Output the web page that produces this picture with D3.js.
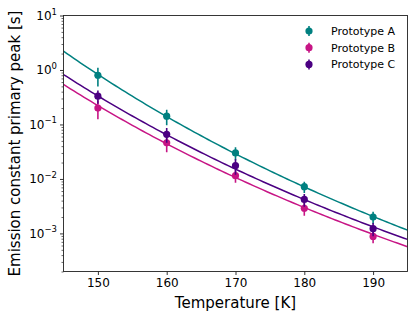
<!DOCTYPE html>
<html><head><meta charset="utf-8">
<script src="https://cdn.jsdelivr.net/npm/d3@7"></script>
<style>body{margin:0;background:#fff}svg{display:block;font-family:"DejaVu Sans",sans-serif}</style>
</head><body><svg id="c" width="415" height="317"></svg>
<script>
const temps = [150, 160, 170, 180, 190];
const seriesNames = ["Prototype A", "Prototype B", "Prototype C"];
const colors = ["#008080", "#c71585", "#4b0082"];
const valuesA = [0.80, 0.142, 0.030, 0.0072, 0.0020];
const valuesB = [0.20, 0.046, 0.0115, 0.0029, 0.00088];
const valuesC = [0.33, 0.066, 0.0175, 0.0042, 0.00122];
const errA = [0.30, 0.045, 0.008, 0.0017, 0.0005];
const errB = [0.075, 0.015, 0.003, 0.0008, 0.00022];
const errC = [0.09, 0.02, 0.0055, 0.0011, 0.00033];
// Arrhenius fit parameters: log10(tau) = a + b / T
const fitA = [-12.466, 1857.6];
const fitB = [-11.88, 1684.0];
const fitC = [-11.888, 1711.7];
const xTicks = [150, 160, 170, 180, 190];
const yTicks = [1e-3, 1e-2, 1e-1, 1, 10];
const yTickExp = ["\u22123", "\u22122", "\u22121", "0", "1"];

const series = [
  {name: seriesNames[0], vals: valuesA, err: errA, fit: fitA, color: colors[0]},
  {name: seriesNames[1], vals: valuesB, err: errB, fit: fitB, color: colors[1]},
  {name: seriesNames[2], vals: valuesC, err: errC, fit: fitC, color: colors[2]}
];

const L = 63.5, R = 407.5, T = 15.5, B = 271.5;
const svg = d3.select("#c");
const x = d3.scaleLinear().domain([145, 195]).range([L, R]);
const y = d3.scaleLog().domain([2e-4, 10]).range([B, T]);

svg.append("clipPath").attr("id", "clp").append("rect")
  .attr("x", L).attr("y", T).attr("width", R - L).attr("height", B - T);

const g = svg.append("g").attr("clip-path", "url(#clp)");
const fitX = d3.range(145, 195.01, 0.5);
const line = d3.line().x(d => x(d[0])).y(d => y(d[1]));
series.forEach(s => {
  g.append("path")
    .attr("d", line(fitX.map(t => [t, Math.pow(10, s.fit[0] + s.fit[1] / t)])))
    .attr("fill", "none").attr("stroke", s.color).attr("stroke-width", 1.5);
});
series.forEach(s => {
  temps.forEach((t, i) => {
    const v = s.vals[i], e = s.err[i];
    g.append("line").attr("x1", x(t)).attr("x2", x(t))
      .attr("y1", y(v + e)).attr("y2", y(Math.max(v - e, 1e-6)))
      .attr("stroke", s.color).attr("stroke-width", 1.6);
    g.append("circle").attr("cx", x(t)).attr("cy", y(v)).attr("r", 3.6).attr("fill", s.color);
  });
});

// axes
const xa = svg.append("g").attr("transform", `translate(0,${B})`)
  .call(d3.axisBottom(x).tickValues(xTicks).tickSize(3.5).tickPadding(3).tickFormat(d3.format("d")));
xa.select(".domain").remove();
xa.selectAll("text").attr("font-size", 12).attr("font-family", "DejaVu Sans").attr("fill", "#000");
xa.selectAll("line").attr("stroke", "#000").attr("stroke-width", 0.8);

const minor = [];
for (let dec = -4; dec <= 0; dec++) for (let m = 1; m <= 9; m++) {
  const v = m * Math.pow(10, dec);
  if (m > 1 && v >= 2e-4 && v <= 10) minor.push(v);
}
const ym = svg.append("g").attr("transform", `translate(${L},0)`)
  .call(d3.axisLeft(y).tickValues(minor).tickSize(2).tickFormat(""));
ym.select(".domain").remove();
ym.selectAll("line").attr("stroke", "#000").attr("stroke-width", 0.6);

const ya = svg.append("g").attr("transform", `translate(${L},0)`)
  .call(d3.axisLeft(y).tickValues(yTicks).tickSize(3.5).tickFormat(""));
ya.select(".domain").remove();
ya.selectAll("line").attr("stroke", "#000").attr("stroke-width", 0.8);
yTicks.forEach((v, i) => {
  const t = svg.append("text").attr("x", 57).attr("y", y(v) + 4.5)
    .attr("text-anchor", "end").attr("font-size", 12).attr("fill", "#000");
  t.append("tspan").text("10");
  t.append("tspan").attr("font-size", 8.5).attr("dy", -5.5).text(yTickExp[i]);
});

svg.append("rect").attr("x", L).attr("y", T).attr("width", R - L).attr("height", B - T)
  .attr("fill", "none").attr("stroke", "#222").attr("stroke-width", 0.9);

svg.append("text").attr("x", (L + R) / 2).attr("y", 308).attr("text-anchor", "middle")
  .attr("font-size", 15).attr("fill", "#000").text("Temperature [K]");
svg.append("text").attr("transform", `translate(20,${(T + B) / 2}) rotate(-90)`)
  .attr("text-anchor", "middle").attr("font-size", 15).attr("fill", "#000")
  .text("Emission constant primary peak [s]");

// legend
const lg = svg.append("g");
series.forEach((s, i) => {
  const cy = 31 + i * 16.7;
  lg.append("line").attr("x1", 309).attr("x2", 309).attr("y1", cy - 5).attr("y2", cy + 5)
    .attr("stroke", s.color).attr("stroke-width", 1.6);
  lg.append("circle").attr("cx", 309).attr("cy", cy).attr("r", 3.6).attr("fill", s.color);
  lg.append("text").attr("x", 331).attr("y", cy + 4).attr("font-size", 11).attr("fill", "#000").text(s.name);
});
</script></body></html>
